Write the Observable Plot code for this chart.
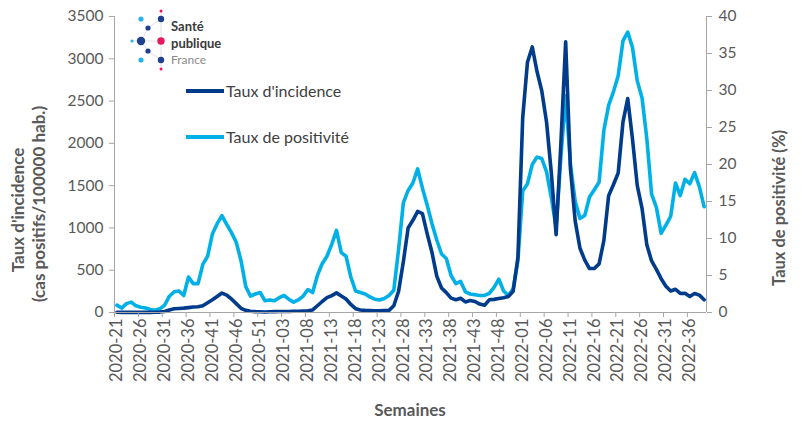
<!DOCTYPE html>
<html><head><meta charset="utf-8">
<script src="https://cdn.jsdelivr.net/npm/d3@7"></script>
<script src="https://cdn.jsdelivr.net/npm/@observablehq/plot@0.6"></script>
<style>
html,body{margin:0;padding:0;background:#fff;}
#chart{width:801px;height:423px;overflow:hidden;}
</style></head><body><div id="chart"></div>
<script>
// ---- categories (ISO weeks 2020-21 .. 2022-39) ----
const weeks = [];
for (let w = 21; w <= 53; w++) weeks.push("2020-" + String(w).padStart(2, "0"));
for (let w = 1; w <= 52; w++) weeks.push("2021-" + String(w).padStart(2, "0"));
for (let w = 1; w <= 39; w++) weeks.push("2022-" + String(w).padStart(2, "0"));

const tickLabels = ["2020-21","2020-26","2020-31","2020-36","2020-41","2020-46","2020-51",
  "2021-03","2021-08","2021-13","2021-18","2021-23","2021-28","2021-33","2021-38","2021-43","2021-48",
  "2022-01","2022-06","2022-11","2022-16","2022-21","2022-26","2022-31","2022-36"];

// Taux d'incidence (cas positifs / 100000 hab.)
const incidence = [
  3,2,2,1,1,1,1,2,3,5,
  12,30,45,48,52,58,65,68,80,115,
  150,190,230,205,160,105,50,25,15,10,
  8,5,8,10,12,12,12,15,15,18,
  20,30,80,130,175,200,232,195,160,95,
  45,30,25,22,20,20,22,25,80,250,
  600,1000,1090,1195,1170,930,710,430,290,235,
  170,150,168,125,142,130,100,85,150,155,
  165,175,190,250,650,2300,2960,3140,2850,2620,
  2250,1650,920,2000,3200,1700,1080,760,620,520,
  520,575,850,1380,1510,1650,2250,2530,2050,1500,
  1230,800,610,510,400,310,255,275,225,228,
  190,225,205,150
];
// Taux de positivité (%)
const positivite = [
  1.0,0.6,1.2,1.4,0.9,0.7,0.6,0.4,0.3,0.5,
  1.0,2.2,2.8,2.9,2.3,4.8,3.9,3.9,6.5,7.6,
  10.6,12.0,13.1,11.9,10.8,9.5,7.0,3.5,2.2,2.5,
  2.7,1.6,1.7,1.6,2.0,2.3,1.8,1.4,1.7,2.2,
  3.1,2.7,5.0,6.6,7.6,9.2,11.1,8.1,7.6,4.8,
  2.9,2.7,2.5,2.1,1.8,1.7,1.9,2.3,3.0,8.5,
  14.8,16.5,17.5,19.4,16.8,14.5,12.0,9.8,7.9,7.3,
  5.0,3.9,4.2,2.8,2.5,2.4,2.3,2.3,2.6,3.4,
  4.5,2.9,2.3,3.2,7.0,16.4,17.4,20.0,21.0,20.8,
  19.0,15.5,11.5,21.0,29.3,20.0,15.0,12.7,13.1,15.6,
  16.6,17.6,24.6,28.0,29.8,32.0,36.7,37.9,35.8,31.3,
  29.0,23.5,16.0,14.2,10.7,11.8,13.0,17.5,15.8,18.0,
  17.4,18.9,17.0,14.3
];
const incTicks = [0,500,1000,1500,2000,2500,3000,3500];
const posTicks = [0,5,10,15,20,25,30,35,40];

const seriesNames = ["Taux d'incidence", "Taux de positivité"];
const colors = ["#003b8c", "#00b0e6"];

const K = 3500 / 40; // secondary axis factor
const data = weeks.map((w, i) => ({i, w, inc: incidence[i], pos: positivite[i]}));
const N = weeks.length;
const axisCol = "#a6a6a6", textCol = "#595959";
const FONT = "Lato, 'Open Sans', sans-serif";

const chart = Plot.plot({
  width: 801, height: 423,
  marginLeft: 114, marginRight: 95, marginTop: 16, marginBottom: 111,
  style: {fontFamily: FONT, background: "white"},
  x: {domain: [0, N], axis: null},
  y: {domain: [0, 3500], axis: null},
  marks: [
    Plot.line(data, {x: d => d.i + 0.5, y: d => d.pos * K, stroke: colors[1], strokeWidth: 3.6, strokeLinejoin: "round"}),
    Plot.line(data, {x: d => d.i + 0.5, y: "inc", stroke: colors[0], strokeWidth: 3.6, strokeLinejoin: "round"}),
    Plot.ruleX([0], {stroke: axisCol}),
    Plot.ruleX([N], {stroke: axisCol}),
    Plot.ruleY([0], {stroke: axisCol}),
    Plot.axisY({ticks: incTicks, tickSize: 5, tickPadding: 6, fontSize: 15.5, stroke: axisCol, fill: textCol, label: null, tickFormat: d => String(d)}),
    Plot.axisY({anchor: "right", ticks: posTicks.map(v => v * K), tickSize: 5, tickPadding: 7, fontSize: 15.5, stroke: axisCol, fill: textCol, label: null, tickFormat: d => String(Math.round(d / K))}),
    Plot.axisX({ticks: d3.range(0, N, 5), tickSize: 5, tickFormat: () => "", stroke: axisCol, label: null}),
    Plot.axisX({ticks: d3.range(0, N, 5).map(k => k + 0.5), tickSize: 0, tickPadding: 6, tickRotate: -90, fontSize: 16.5, fill: textCol, label: null,
      tickFormat: d => tickLabels[Math.round((d - 0.5) / 5)]})
  ]
});
document.getElementById("chart").appendChild(chart);

const svg = d3.select(chart);
function txt(sel, o) {
  return sel.append("text").attr("font-family", FONT).attr("text-anchor", o.anchor || "start")
    .attr("font-weight", o.bold ? "bold" : "normal").attr("font-size", o.size).attr("fill", o.fill)
    .attr("transform", o.transform || null).attr("x", o.x ?? null).attr("y", o.y ?? null)
    .attr("dy", o.dy || null).text(o.text);
}
// axis titles
txt(svg, {transform: "translate(24,210) rotate(-90)", anchor: "middle", bold: true, size: 17, fill: textCol, text: "Taux d'incidence"});
txt(svg, {transform: "translate(45,204) rotate(-90)", anchor: "middle", bold: true, size: 17, fill: textCol, text: "(cas positifs/100000 hab.)"});
txt(svg, {transform: "translate(785,208) rotate(-90)", anchor: "middle", bold: true, size: 16.5, fill: textCol, text: "Taux de positivité (%)"});
txt(svg, {x: 410, y: 416, anchor: "middle", bold: true, size: 17, fill: textCol, text: "Semaines"});

// legend
const legY = [91, 137];
seriesNames.forEach((name, k) => {
  svg.append("line").attr("x1", 186).attr("x2", 224).attr("y1", legY[k]).attr("y2", legY[k])
    .attr("stroke", colors[k]).attr("stroke-width", 4);
  txt(svg, {x: 226, y: legY[k], dy: "0.35em", size: 16, fill: "#404040", text: name});
});

// logo (Santé publique France)
const logo = svg.append("g");
[[141,41,161,41],[161,11,161,69],[141,41,148,28],[141,41,148,51],[148,28,161,19],[148,51,161,60],[132,41,141,41]].forEach(l =>
  logo.append("line").attr("x1", l[0]).attr("y1", l[1]).attr("x2", l[2]).attr("y2", l[3]).attr("stroke", "#d8d8d8").attr("stroke-width", 0.8));
[[141,19,2.6,"#28b4e6"],[161,19,3.2,"#1f3f8f"],[161,11,1.5,"#e5175e"],[148,28,2.6,"#1f3f8f"],[132,41,1.6,"#28b4e6"],
 [141,41,4.2,"#1f3f8f"],[161,41,3.7,"#e5175e"],[148,51,2.6,"#1f3f8f"],[141,60,2.6,"#28b4e6"],[161,60,3.2,"#1f3f8f"],[161,69,1.5,"#e5175e"]]
 .forEach(c => logo.append("circle").attr("cx", c[0]).attr("cy", c[1]).attr("r", c[2]).attr("fill", c[3]));
txt(logo, {x: 171, y: 31, bold: true, size: 13, fill: "#3a3a3a", text: "Santé"});
txt(logo, {x: 171, y: 47.5, bold: true, size: 13, fill: "#3a3a3a", text: "publique"});
txt(logo, {x: 171, y: 64, size: 12, fill: "#8a8a8a", text: "France"});
</script></body></html>
